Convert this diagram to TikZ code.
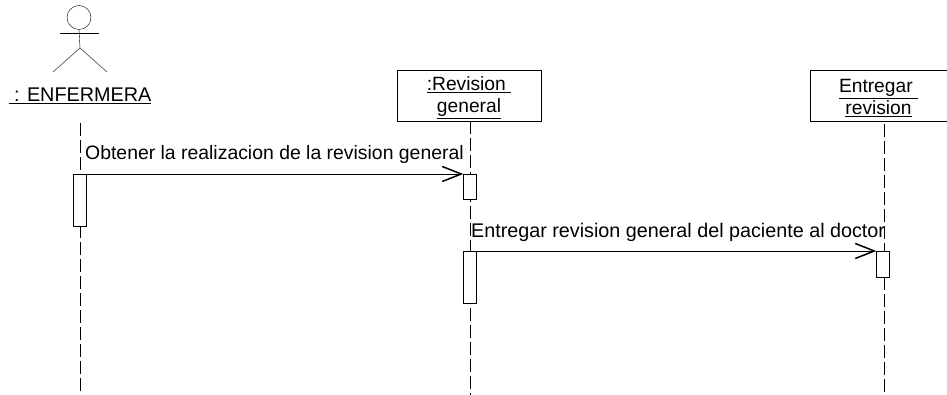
\documentclass[tikz,border=0pt]{standalone}
\usepackage{fontspec}
\setmainfont{Liberation Sans}
\usetikzlibrary{arrows.meta}
\tikzset{
  x=1pt,y=-1pt,
  line width=1.3pt,
  txt/.style={font=\fontsize{19.4}{22}\selectfont,text=black,inner sep=0pt},
  objbox/.style={draw,minimum width=144pt,minimum height=51pt,inner sep=0pt,align=center,font=\fontsize{19.2}{22}\selectfont},
  act/.style={draw,fill=white,minimum width=13pt,inner sep=0pt,anchor=north},
  life/.style={dash pattern=on 13pt off 4pt},
  msg/.style={-{Straight Barb[length=19pt,width=15pt,line width=1.5pt]}}
}
\newcommand{\ul}[1]{\underline{#1}}
\begin{document}
\begin{tikzpicture}
\useasboundingbox (0,0) rectangle (947,395);
% actor
\node[draw,circle,minimum size=24pt,inner sep=0pt] (head) at (79,17.5) {};
\coordinate (hip) at (80,48);
\coordinate (armL) at (60,33.5);
\coordinate (armR) at (99,33.5);
\coordinate (legL) at (53,72);
\coordinate (legR) at (107,72);
\draw (head.south) -- (hip);
\draw (armL) -- (armR);
\draw (legL) -- (hip) -- (legR);
\node[txt,anchor=base,font=\fontsize{19.8}{22}\selectfont] (enf) at (80,102) {\ul{\ : ENFERMERA}};
% objects
\node[objbox] (rev) at (469,95.5) {\rule{0pt}{18pt}\ul{:Revision\ }\\\ul{general}};
\node[objbox,minimum width=137pt] (ent) at (878.5,95.5) {\rule{0pt}{18pt}\ul{Entregar\ }\\\ul{revision}};
% lifeline ends
\coordinate (l1s) at (80,123);
\coordinate (l1e) at (80,395);
\coordinate (l2e) at (470,395);
\coordinate (l3s) at (884,124);
\coordinate (l3e) at (884,395);
\coordinate (l2s) at (470,121);
\draw[life] (l1s) -- (l1e);
\draw[life] (l2s) -- (l2e);
\draw[life] (l3s) -- (l3e);
% activations
\node[act,minimum height=52pt] (a1) at (80,174) {};
\node[act,minimum height=25pt] (a2) at (470,174) {};
\node[act,minimum height=52pt] (a3) at (470,251) {};
\node[act,minimum height=26pt] (a4) at (883,251) {};
% messages
\draw[msg] (a1.north east) -- (a2.north west);
\draw[msg] (a3.north east) -- (a4.north west);
\node[txt,anchor=base west] (m1) at (85,160) {Obtener la realizacion de la revision general};
\node[txt,anchor=base west,font=\fontsize{19.75}{22}\selectfont] (m2) at (471,238) {Entregar revision general del paciente al doctor};
\end{tikzpicture}
\end{document}
